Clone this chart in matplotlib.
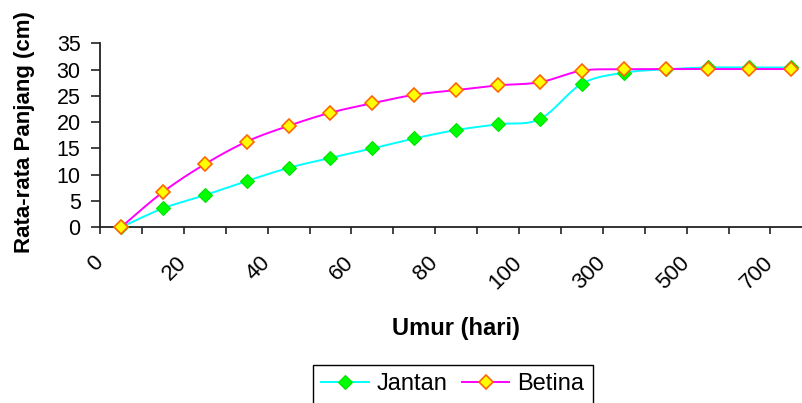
import numpy as np
import matplotlib
matplotlib.use('Agg')
import matplotlib.pyplot as plt
from matplotlib.transforms import ScaledTranslation
from matplotlib.lines import Line2D

# ---- data ----
categories = ['0', '10', '20', '30', '40', '50', '60', '70', '80', '90', '100',
              '200', '300', '400', '500', '600', '700']
jantan = [0, 3.6, 6.1, 8.8, 11.3, 13.2, 15.0, 16.9, 18.5, 19.6, 20.6,
          27.3, 29.4, 30.05, 30.4, 30.4, 30.4]
betina = [0, 6.7, 12.0, 16.3, 19.3, 21.8, 23.6, 25.2, 26.1, 27.0, 27.6,
          29.8, 30.05, 30.1, 30.1, 30.1, 30.1]
y_ticks = [0, 5, 10, 15, 20, 25, 30, 35]
series_names = ['Jantan', 'Betina']
x_title = 'Umur (hari)'
y_title = 'Rata-rata Panjang (cm)'

plt.rcParams['font.family'] = ['Liberation Sans', 'DejaVu Sans']

W, H = 802, 403
fig = plt.figure(figsize=(W / 100, H / 100), dpi=100)
fig.patch.set_facecolor('white')

ncat = len(categories)
cat_w = 41.9
left_px, bottom_px, top_px = 100, 227.3, 43.3
ax = fig.add_axes([left_px / W, (H - bottom_px) / H, ncat * cat_w / W, (bottom_px - top_px) / H])
ax.set_facecolor('none')


def smooth(xs, ys, n=24):
    pts = np.column_stack([xs, ys]).astype(float)
    pad = np.vstack([pts[0], pts, pts[-1]])
    out = []
    t = np.linspace(0, 1, n)[:, None]
    for i in range(len(pts) - 1):
        p0, p1, p2, p3 = pad[i], pad[i + 1], pad[i + 2], pad[i + 3]
        c1 = p1 + (p2 - p0) / 6
        c2 = p2 - (p3 - p1) / 6
        seg = ((1 - t) ** 3) * p1 + 3 * ((1 - t) ** 2) * t * c1 + 3 * (1 - t) * t ** 2 * c2 + t ** 3 * p2
        out.append(seg if i == 0 else seg[1:])
    a = np.vstack(out)
    return a[:, 0], a[:, 1]


xc = np.arange(ncat) + 0.5
jan_style = dict(color='#00FFFF', marker='D', markersize=7, markerfacecolor='#00FF00',
                 markeredgecolor='#00E000', markeredgewidth=0.8)
bet_style = dict(color='#FF00FF', marker='D', markersize=7, markerfacecolor='#FFFF00',
                 markeredgecolor='#FF6600', markeredgewidth=1.2)

sx, sy = smooth(xc, jantan)
ax.plot(sx, sy, color='#00FFFF', lw=1.4, clip_on=False, zorder=3)
ax.plot(xc, jantan, ls='none', clip_on=False, zorder=4,
        **{k: v for k, v in jan_style.items() if k != 'color'})
sx, sy = smooth(xc, betina)
ax.plot(sx, sy, color='#FF00FF', lw=1.4, clip_on=False, zorder=5)
ax.plot(xc, betina, ls='none', clip_on=False, zorder=6,
        **{k: v for k, v in bet_style.items() if k != 'color'})

ax.set_xlim(0, ncat)
ax.set_ylim(0, 35)
ax.set_yticks(y_ticks)
ax.set_yticklabels([str(v) for v in y_ticks], fontsize=15.5)

ax.set_xticks(np.arange(ncat + 1))
ax.set_xticklabels([])
ax.set_xticks(xc[::2], minor=True)
ax.set_xticklabels(categories[::2], minor=True, fontsize=16, rotation=45, ha='right', va='top')
ax.tick_params(axis='x', which='minor', length=0, pad=25 * 0.72)
ax.tick_params(axis='x', which='major', length=7 * 0.72, width=1.2, color='#222222', direction='out')
ax.tick_params(axis='y', length=9 * 0.72, width=1.2, color='#222222', pad=7.5, direction='out')
off = ScaledTranslation(-14 / 100, 0, fig.dpi_scale_trans)
for lbl in ax.get_xticklabels(minor=True):
    lbl.set_transform(lbl.get_transform() + off)

for s in ['top', 'right']:
    ax.spines[s].set_visible(False)
for s in ['left', 'bottom']:
    ax.spines[s].set_color('#222222')
    ax.spines[s].set_linewidth(1.3)

fig.text(25 / W, 1 - 132 / H, y_title, rotation=90, ha='center', va='center',
         fontsize=16, fontweight='bold')
fig.text(456 / W, 1 - 328 / H, x_title, ha='center', va='center',
         fontsize=17, fontweight='bold')

handles = [Line2D([], [], lw=1.4, **jan_style), Line2D([], [], lw=1.4, **bet_style)]
leg = fig.legend(handles, series_names, loc='upper center', ncol=2,
                 bbox_to_anchor=(453 / W, 1 - 365 / H), fontsize=17, frameon=True,
                 fancybox=False, edgecolor='black', framealpha=1,
                 handlelength=2.0, handletextpad=0.35, columnspacing=0.6,
                 borderpad=0.35, borderaxespad=0)
leg.get_frame().set_linewidth(1.0)

fig.savefig('out.png', dpi=100)
